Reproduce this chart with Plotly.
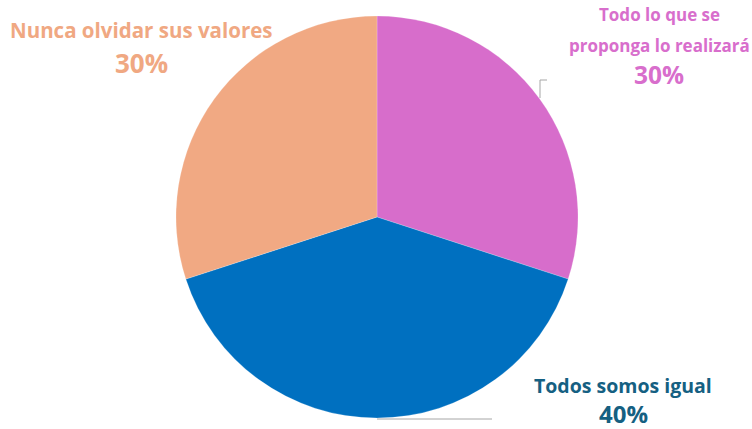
import plotly.graph_objects as go

# Survey shares
labels = ["Todo lo que se proponga lo realizará", "Todos somos igual", "Nunca olvidar sus valores"]
values = [30, 40, 30]
slice_colors = ["#D76DCB", "#0070C0", "#F1A983"]
text_colors = ["#D86ECC", "#156082", "#F0A882"]

W, H = 752, 429
cx, cy, r = 377, 217, 201

fig = go.Figure(go.Pie(
    labels=labels,
    values=values,
    sort=False,
    direction="clockwise",
    rotation=0,
    textinfo="none",
    hoverinfo="label+percent",
    marker=dict(colors=slice_colors, line=dict(color="rgba(255,255,255,0.4)", width=0.5)),
    domain=dict(x=[(cx - r) / W, (cx + r) / W], y=[(H - cy - r) / H, (H - cy + r) / H]),
    showlegend=False,
))

total = sum(values)
pcts = [round(v * 100 / total) for v in values]

font_family = "'Open Sans', sans-serif"

def px(x):
    return x / W

def py(y):
    return 1 - y / H

# Label text for each slice: name line(s) and percentage
annots = [
    # pink
    dict(lines=["Todo lo que se", "proponga lo realizará"], x=659, ys=[14, 45], pct_y=75,
         name_size=17, pct_size=24.5, color=text_colors[0], pct=pcts[0]),
    # blue
    dict(lines=["Todos somos igual"], x=623, ys=[385], pct_y=413,
         name_size=19.5, pct_size=24, color=text_colors[1], pct=pcts[1]),
    # orange
    dict(lines=["Nunca olvidar sus valores"], x=141, ys=[30], pct_y=63,
         name_size=20.5, pct_size=26, color=text_colors[2], pct=pcts[2]),
]

for a in annots:
    for line, y in zip(a["lines"], a["ys"]):
        fig.add_annotation(x=px(a["x"]), y=py(y), xref="paper", yref="paper",
                           text=f"<b>{line}</b>", showarrow=False,
                           xanchor="center", yanchor="middle", borderpad=0,
                           font=dict(family=font_family, size=a["name_size"], color=a["color"]))
    fig.add_annotation(x=px(a["x"]), y=py(a["pct_y"]), xref="paper", yref="paper",
                       text=f"<b>{a['pct']}%</b>", showarrow=False,
                       xanchor="center", yanchor="middle", borderpad=0,
                       font=dict(family=font_family, size=a["pct_size"], color=a["color"]))

# Leader lines
lc = dict(color="#A6A6A6", width=1)
fig.add_shape(type="line", xref="paper", yref="paper",
              x0=px(540), y0=py(98), x1=px(540), y1=py(80), line=lc)
fig.add_shape(type="line", xref="paper", yref="paper",
              x0=px(540), y0=py(80), x1=px(547), y1=py(80), line=lc)
fig.add_shape(type="line", xref="paper", yref="paper",
              x0=px(377), y0=py(419), x1=px(492), y1=py(419), line=lc)

fig.update_layout(
    width=W, height=H,
    margin=dict(l=0, r=0, t=0, b=0),
    paper_bgcolor="white",
    plot_bgcolor="white",
)

fig.write_html("out.html")
